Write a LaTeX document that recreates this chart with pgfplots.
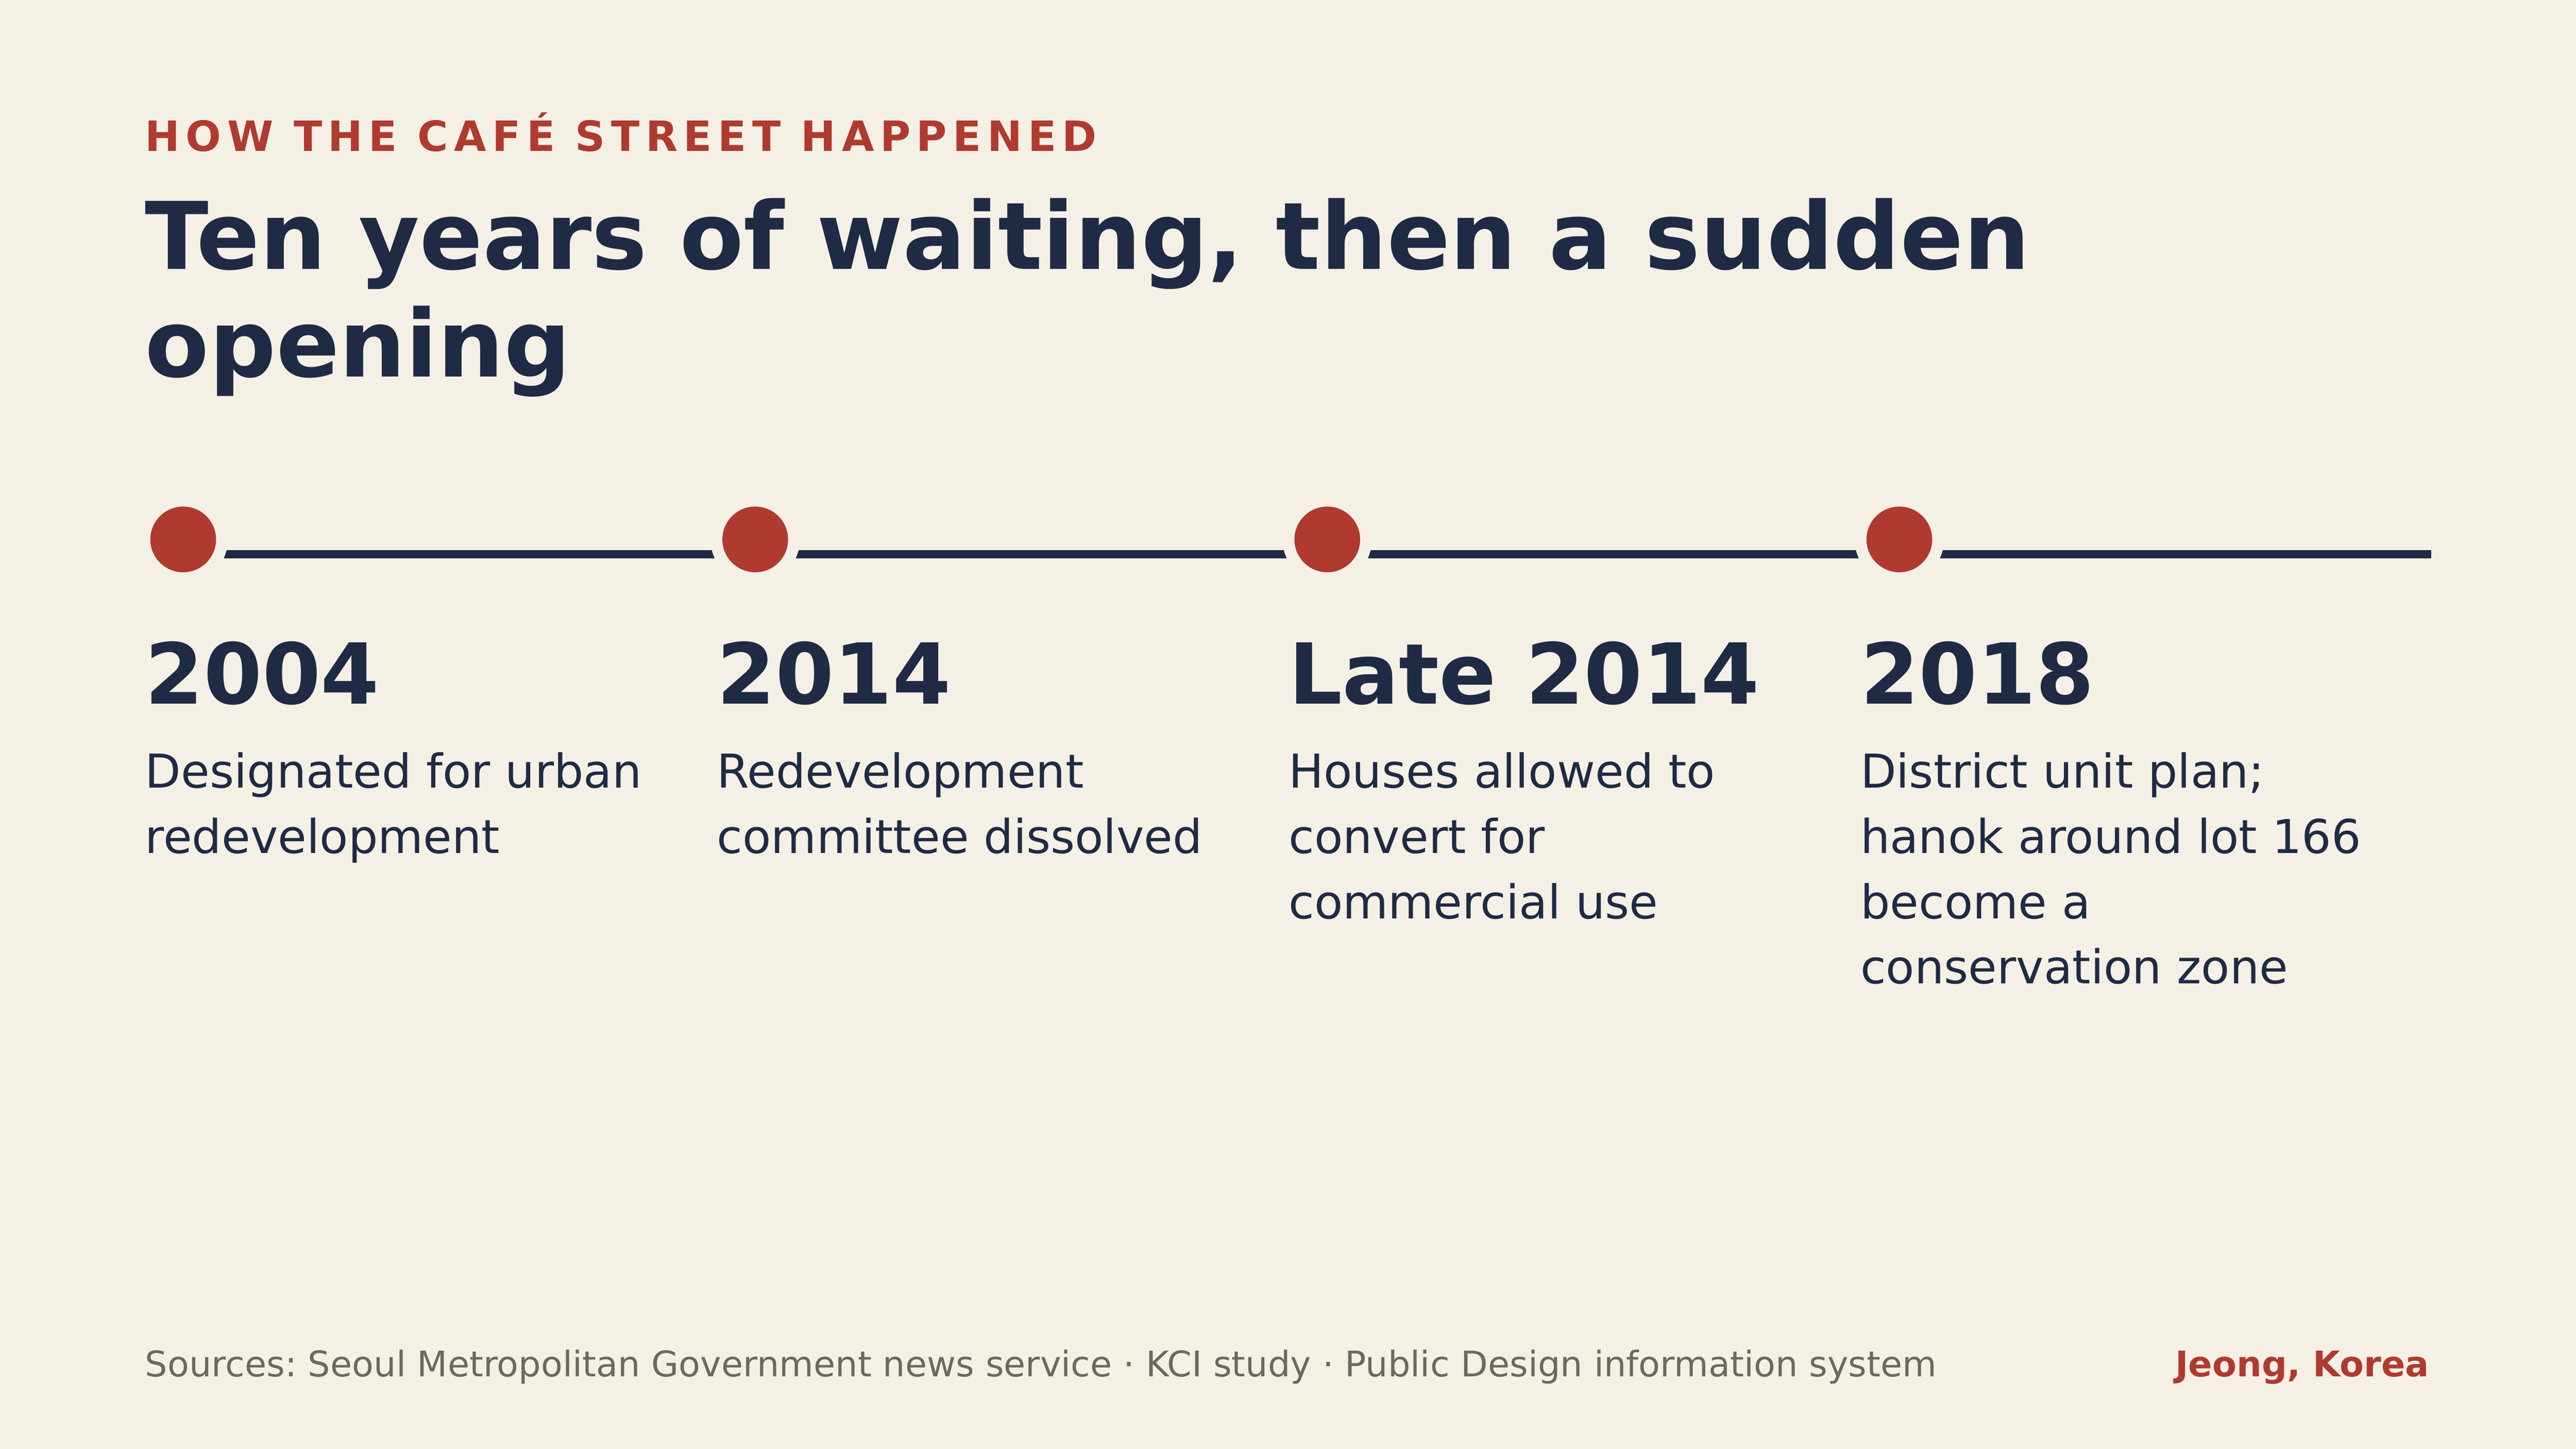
\documentclass[border=0pt]{standalone}
\usepackage{fontspec}
\setmainfont{DejaVu Sans}
\usepackage{pgfplots}
\pgfplotsset{compat=1.18}

\definecolor{bgcol}{HTML}{F5F0E6}
\definecolor{navy}{HTML}{1F2A44}
\definecolor{brick}{HTML}{B03A2F}
\definecolor{note}{HTML}{6B6862}

% 1 unit = 1 px of a 1568 x 882 frame = 0.5pt
\newcommand{\fs}[1]{\fontsize{#1}{#1}\selectfont}
\frenchspacing

\begin{document}
\begin{tikzpicture}
\begin{axis}[
    width=784pt, height=441pt,
    scale only axis,
    xmin=0, xmax=1568,
    ymin=0, ymax=882,
    y dir=reverse,
    hide axis,
    clip=false,
  ]
  \fill[bgcol] (axis cs:0,0) rectangle (axis cs:1568,882);

  % timeline rule
  \addplot[navy, line width=2.5pt] coordinates {(111,337.5) (1480,337.5)};
  % gaps round the dots
  \addplot[bgcol, only marks, mark=*, mark size=13.4pt]
    coordinates {(111.5,328.4) (459.7,328.4) (807.9,328.4) (1156.1,328.4)};
  % dots
  \addplot[brick, only marks, mark=*, mark size=9.8pt]
    coordinates {(111.5,328.4) (459.7,328.4) (807.9,328.4) (1156.1,328.4)};

  % header
  \node[anchor=base west, inner sep=0, text=brick]
    at (axis cs:88,92) {\fs{12.7pt}\bfseries\addfontfeature{LetterSpace=14}HOW THE CAFÉ STREET HAPPENED};
  \node[anchor=base west, inner sep=0, text=navy]
    at (axis cs:88,164) {\fs{28.4pt}\bfseries Ten years of waiting, then a sudden};
  \node[anchor=base west, inner sep=0, text=navy]
    at (axis cs:88,229.5) {\fs{28.4pt}\bfseries opening};

  % years
  \node[anchor=base west, inner sep=0, text=navy] at (axis cs:88,428.4)   {\fs{25.6pt}\bfseries 2004};
  \node[anchor=base west, inner sep=0, text=navy] at (axis cs:436,428.4)  {\fs{25.6pt}\bfseries 2014};
  \node[anchor=base west, inner sep=0, text=navy] at (axis cs:784,428.4)  {\fs{25.6pt}\bfseries Late 2014};
  \node[anchor=base west, inner sep=0, text=navy] at (axis cs:1132,428.4) {\fs{25.6pt}\bfseries 2018};

  % descriptions
  \tikzset{desc/.style={anchor=base west, inner sep=0, text=navy, font=\fs{14.2pt}}}
  \node[desc] at (axis cs:88,479.8)   {Designated for urban};
  \node[desc] at (axis cs:88,519.5)   {redevelopment};
  \node[desc] at (axis cs:436,479.8)  {Redevelopment};
  \node[desc] at (axis cs:436,519.5)  {committee dissolved};
  \node[desc] at (axis cs:784,479.8)  {Houses allowed to};
  \node[desc] at (axis cs:784,519.5)  {convert for};
  \node[desc] at (axis cs:784,559.2)  {commercial use};
  \node[desc] at (axis cs:1132,479.8) {District unit plan;};
  \node[desc] at (axis cs:1132,519.5) {hanok around lot 166};
  \node[desc] at (axis cs:1132,559.2) {become a};
  \node[desc] at (axis cs:1132,598.9) {conservation zone};

  % footer
  \node[anchor=base west, inner sep=0, text=note] at (axis cs:88,838)
    {\fs{10.75pt}Sources: Seoul Metropolitan Government news service · KCI study · Public Design information system};
  \node[anchor=base east, inner sep=0, text=brick] at (axis cs:1479,838)
    {\fs{10.75pt}\bfseries Jeong, Korea};
\end{axis}
\end{tikzpicture}
\end{document}
